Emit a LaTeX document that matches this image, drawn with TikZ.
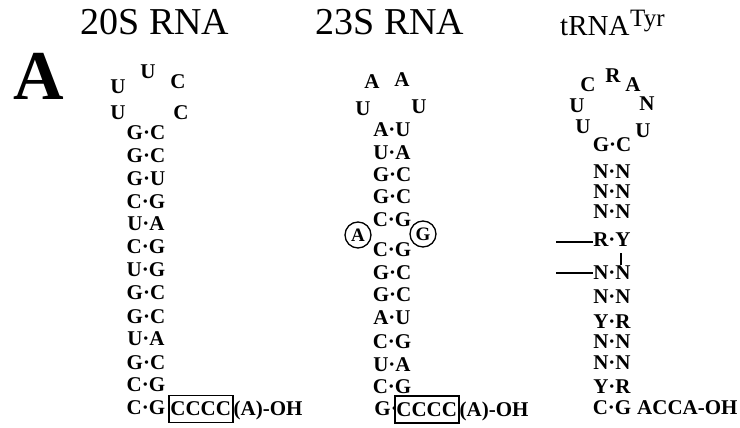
\documentclass[tikz,border=0pt]{standalone}
\usepackage{fontspec}
\setmainfont{Liberation Serif}
\begin{document}
\begin{tikzpicture}[x=1pt,y=-1pt,
  bs/.style={font=\fontsize{21}{21}\selectfont\bfseries, inner sep=0pt, text height=13.75pt, text depth=0pt},
  lp/.style={font=\fontsize{21}{21}\selectfont\bfseries, inner sep=0pt, text height=13.75pt, text depth=0pt},
  ttl/.style={font=\fontsize{38}{38}\selectfont, inner sep=0pt, anchor=base},
  boxed/.style={draw, line width=1.5pt, inner sep=0pt, minimum width=64pt, minimum height=27pt},
  circ/.style={circle, draw, line width=1.3pt, inner sep=0pt, minimum size=26pt, font=\fontsize{19}{19}\selectfont\bfseries},
  tick/.style={line width=1.3pt}]
\useasboundingbox (0,0) rectangle (740,428);
% titles
\node[ttl] (t20) at (155,35) {20S RNA};
\node[ttl] (t23) at (390,35) {23S RNA};
\node[inner sep=0pt, anchor=base west, font=\fontsize{29}{29}\selectfont] (ttr) at (560,36) {tRNA};
\node[inner sep=0pt, anchor=base west, font=\fontsize{25}{25}\selectfont] (tty) at (630,27) {Tyr};
\node[inner sep=0pt, anchor=base, font=\fontsize{70}{70}\selectfont\bfseries] (bigA) at (38.5,100) {A};
% 20S loop
\node[lp] (a1) at (118,87) {U};
\node[lp] (a2) at (148,72) {U};
\node[lp] (a3) at (178,82) {C};
\node[lp] (a4) at (118,113) {U};
\node[lp] (a5) at (181,113) {C};
% 20S stem
\foreach \t [count=\i] / \yy in {G·C/133, G·C/156, G·U/179, C·G/202, U·A/224, C·G/247, U·G/270, G·C/293, G·C/317, U·A/339, G·C/363, C·G/385, C·G/408}
  \node[bs] (s\i) at (146,\yy) {\t};
\node[boxed, anchor=west] (box20) at (168,409) {\fontsize{21}{21}\selectfont\bfseries CCCC};
\node[bs, anchor=west] (oh20) at (box20.east) {(A)-OH};
% 23S loop
\node[lp] (b1) at (372,82) {A};
\node[lp] (b2) at (402,80) {A};
\node[lp] (b3) at (363,109) {U};
\node[lp] (b4) at (419,107) {U};
% 23S stem
\foreach \t [count=\i] / \yy in {A·U/130, U·A/153, G·C/175, G·C/197, C·G/220, C·G/250, G·C/273, G·C/295, A·U/318, C·G/342, U·A/365, C·G/387}
  \node[bs] (m\i) at (392,\yy) {\t};
\node[bs, anchor=east] (m13) at (398,409) {G·};
\node[boxed, anchor=west, fill=none] (box23) at (394,409.5) {\fontsize{21}{21}\selectfont\bfseries CCCC};
\node[bs, anchor=west] (oh23) at (box23.east) {(A)-OH};
\node[circ] (ca) at (358,235) {A};
\node[circ] (cg) at (423,234) {G};
% tRNA loop
\node[lp] (c1) at (588,85) {C};
\node[lp] (c2) at (613,76) {R};
\node[lp] (c3) at (633,85) {A};
\node[lp] (c4) at (577,106) {U};
\node[lp] (c5) at (647,104) {N};
\node[lp] (c6) at (583,127) {U};
\node[lp] (c7) at (643,131) {U};
% tRNA stem
\foreach \t [count=\i] / \yy in {G·C/145, N·N/172, N·N/192, N·N/212, R·Y/240, N·N/273, N·N/297, Y·R/322, N·N/342, N·N/363, Y·R/387, C·G/408}
  \node[bs] (r\i) at (612,\yy) {\t};
\node[bs, anchor=west] (acca) at (637,408) {ACCA-OH};
\coordinate (l1) at (556,242);
\coordinate (l2) at (556,273);
\coordinate (v1) at (621,253);
\coordinate (v2) at (621,265);
\draw[tick] (l1) -- (l1 -| r5.west);
\draw[tick] (l2) -- (l2 -| r6.west);
\draw[tick] (v1) -- (v2);
\end{tikzpicture}
\end{document}
